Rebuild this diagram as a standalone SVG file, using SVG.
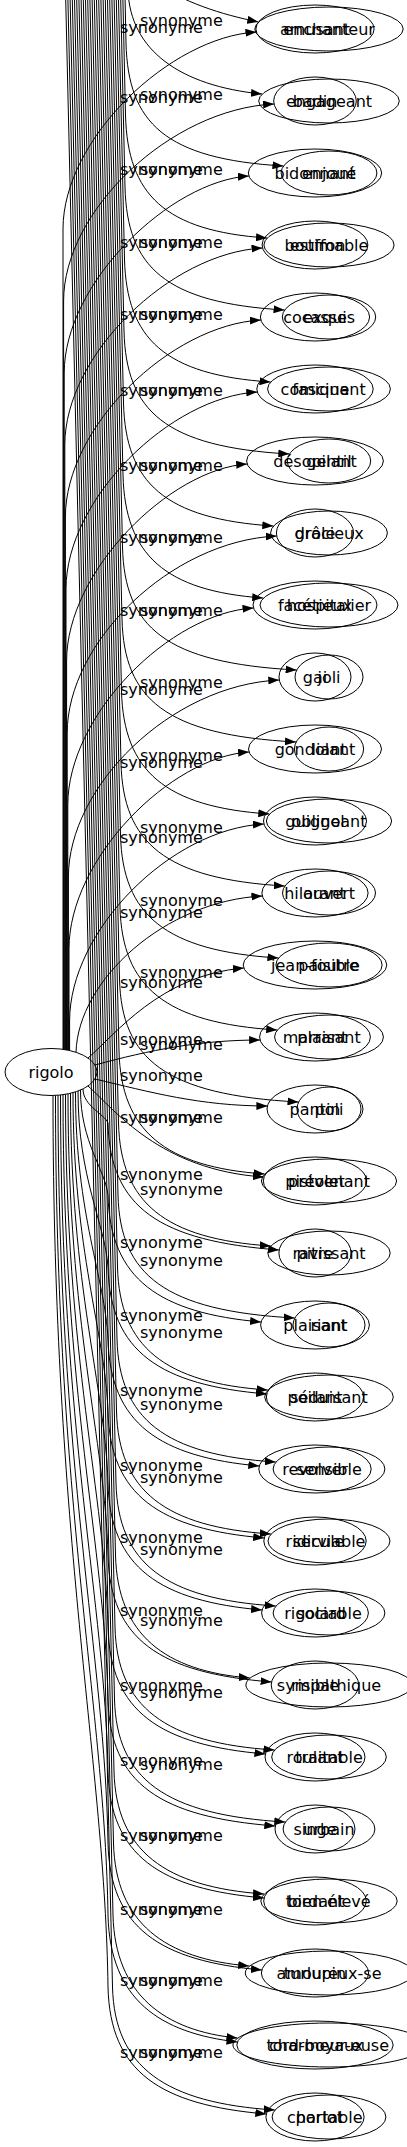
<svg xmlns="http://www.w3.org/2000/svg" width="407" height="2147" viewBox="0 0 407 2147">
<style>
.e{fill:none;stroke:#000;stroke-width:1;marker-end:url(#ah)}
.n{fill:none;stroke:#000;stroke-width:1}
.t{font-family:"DejaVu Sans",sans-serif;font-size:16px;text-anchor:middle;fill:#000}
.l{font-family:"DejaVu Sans",sans-serif;font-size:16px;fill:#000}
</style>
<defs>
<marker id="ah" markerUnits="userSpaceOnUse" markerWidth="11" markerHeight="8" refX="11" refY="4" orient="auto"><path d="M0,0 L11,4 L0,8 z" fill="#000"/></marker>
</defs>
<rect width="407" height="2147" fill="#fff"/>
<g id="connectors">
<path class="e" d="M63,1049.3 L63,229 C63,139 170,37 256.4,32"/>
<path class="e" d="M63.6,1049.4 L63.6,301 C63.6,211 170,109 274.1,104"/>
<path class="e" d="M64.2,1049.5 L64.2,373 C64.2,283 170,181 248.9,176"/>
<path class="e" d="M64.8,1049.6 L64.8,445 C64.8,355 170,253 262.5,248"/>
<path class="e" d="M65.4,1049.7 L65.4,517 C65.4,427 170,325 260.9,320"/>
<path class="e" d="M66,1049.8 L66,589 C66,499 170,397 257.3,392"/>
<path class="e" d="M66.6,1049.9 L66.6,661 C66.6,571 170,469 247.2,464"/>
<path class="e" d="M67.2,1050 L67.2,733 C67.2,643 170,541 276.7,536"/>
<path class="e" d="M67.8,1050.1 L67.8,805 C67.8,715 170,613 253.5,608"/>
<path class="e" d="M68.4,1050.3 L68.4,877 C68.4,787 170,685 279.3,680"/>
<path class="e" d="M69,1050.4 L69,949 C69,859 170,757 249.1,752"/>
<path class="e" d="M69.6,1050.5 L69.6,1021 C69.6,931 170,829 263.9,824"/>
<path class="e" d="M76,1052.5 C78,980 165,901 262.4,896"/>
<path class="e" d="M88,1058 C115,1035 160,975 243.8,968"/>
<path class="e" d="M95,1065 C150,1050 200,1040 260.1,1040"/>
<path class="e" d="M95,1079 C150,1092 200,1106 267.4,1106"/>
<path class="e" d="M88,1086 C115,1110 160,1170 263.7,1177"/>
<path class="e" d="M83,1088.9 C83,1106 105,1114.5 108,1123 C110,1208 160,1241 279.2,1250"/>
<path class="e" d="M80.5,1090 C80.5,1142.5 105,1168.8 108,1195 C110,1280 160,1313 261.1,1322"/>
<path class="e" d="M78,1091 C78,1179 105,1223 108,1267 C110,1352 160,1385 266.8,1394"/>
<path class="e" d="M75.5,1091.9 C75.5,1215.5 105,1277.2 108,1339 C110,1424 160,1457 259.3,1466"/>
<path class="e" d="M73,1092.6 C73,1251.8 105,1331.4 108,1411 C110,1496 160,1529 264.2,1538"/>
<path class="e" d="M70.5,1093.3 C70.5,1288.2 105,1385.6 108,1483 C110,1568 160,1601 262.1,1610"/>
<path class="e" d="M68,1093.8 C68,1324.4 105,1439.7 108,1555 C110,1640 160,1673 271.6,1682"/>
<path class="e" d="M65.5,1094.3 C65.5,1360.7 105,1493.8 108,1627 C110,1712 160,1745 265.4,1754"/>
<path class="e" d="M63,1094.7 C63,1396.9 105,1547.9 108,1699 C110,1784 160,1817 275.3,1826"/>
<path class="e" d="M60.5,1095 C60.5,1433 105,1602 108,1771 C110,1856 160,1889 264.1,1898"/>
<path class="e" d="M58,1095.2 C58,1469.1 105,1656 108,1843 C110,1928 160,1961 261.9,1970"/>
<path class="e" d="M55.5,1095.4 C55.5,1505.2 105,1710.1 108,1915 C110,2000 160,2033 237.5,2042"/>
<path class="e" d="M53,1095.5 C53,1541.3 105,1764.1 108,1987 C110,2072 160,2105 266.3,2114"/>
<path class="e" d="M150,-20 C185,3 220,14 258.3,22"/>
<path class="e" d="M128,-10 C130,50 180,86 262,94"/>
<path class="e" d="M125,-5 L126,43 C128,123 165,159 283.4,166"/>
<path class="e" d="M122.8,-5 L125.5,115 C127.5,195 165,231 267,238"/>
<path class="e" d="M120.6,-5 L125,187 C127,267 165,303 284.5,310"/>
<path class="e" d="M118.4,-5 L124.5,259 C126.5,339 165,375 270.5,382"/>
<path class="e" d="M116.2,-5 L124,331 C126,411 165,447 289.3,454"/>
<path class="e" d="M114,-5 L123.5,403 C125.5,483 165,519 273.3,526"/>
<path class="e" d="M111.8,-5 L123,475 C125,555 165,591 263.2,598"/>
<path class="e" d="M109.6,-5 L122.5,547 C124.5,627 165,663 296.6,670"/>
<path class="e" d="M107.4,-5 L122,619 C124,699 165,735 296,742"/>
<path class="e" d="M105.2,-5 L121.5,691 C123.5,771 165,807 269.3,814"/>
<path class="e" d="M103,-5 L121,763 C123,843 165,879 284.7,886"/>
<path class="e" d="M100.8,-5 L120.5,835 C122.5,915 165,951 278.4,958"/>
<path class="e" d="M98.6,-5 L120,907 C122,987 165,1023 277.2,1030"/>
<path class="e" d="M96.4,-5 L119.5,979 C121.5,1059 165,1095 298.5,1102"/>
<path class="e" d="M94.2,-5 L119,1051 C121,1131 165,1167 264.6,1174"/>
<path class="e" d="M92,-5 L118.5,1123 C120.5,1203 165,1239 270.7,1246"/>
<path class="e" d="M89.8,-5 L118,1195 C120,1275 165,1311 294.7,1318"/>
<path class="e" d="M87.6,-5 L117.5,1267 C119.5,1347 165,1383 267.7,1390"/>
<path class="e" d="M85.4,-5 L117,1339 C119,1419 165,1455 275.7,1462"/>
<path class="e" d="M83.2,-5 L116.5,1411 C118.5,1491 165,1527 270.9,1534"/>
<path class="e" d="M81,-5 L116,1483 C118,1563 165,1599 275.7,1606"/>
<path class="e" d="M78.8,-5 L115.5,1555 C117.5,1635 165,1671 249.8,1678"/>
<path class="e" d="M76.6,-5 L115,1627 C117,1707 165,1743 274.4,1750"/>
<path class="e" d="M74.4,-5 L114.5,1699 C116.5,1779 165,1815 285.3,1822"/>
<path class="e" d="M72.2,-5 L114,1771 C116,1851 165,1887 264,1894"/>
<path class="e" d="M70,-5 L113.5,1843 C115.5,1923 165,1959 249.2,1966"/>
<path class="e" d="M67.8,-5 L113,1915 C115,1995 165,2031 237.4,2038"/>
<path class="e" d="M65.6,-5 L112.5,1987 C114.5,2067 165,2103 274.8,2110"/>
<g id="edge-labels">
<text class="l" x="120" y="33">synonyme</text>
<text class="l" x="120" y="103">synonyme</text>
<text class="l" x="120" y="175">synonyme</text>
<text class="l" x="120" y="248">synonyme</text>
<text class="l" x="120" y="320">synonyme</text>
<text class="l" x="120" y="396">synonyme</text>
<text class="l" x="120" y="471">synonyme</text>
<text class="l" x="120" y="543">synonyme</text>
<text class="l" x="120" y="616">synonyme</text>
<text class="l" x="120" y="695">synonyme</text>
<text class="l" x="120" y="768">synonyme</text>
<text class="l" x="120" y="843">synonyme</text>
<text class="l" x="120" y="918">synonyme</text>
<text class="l" x="120" y="988">synonyme</text>
<text class="l" x="120" y="1045">synonyme</text>
<text class="l" x="120" y="1081">synonyme</text>
<text class="l" x="120" y="1123">synonyme</text>
<text class="l" x="120" y="1180">synonyme</text>
<text class="l" x="120" y="1248">synonyme</text>
<text class="l" x="120" y="1321">synonyme</text>
<text class="l" x="120" y="1396">synonyme</text>
<text class="l" x="120" y="1471">synonyme</text>
<text class="l" x="120" y="1543">synonyme</text>
<text class="l" x="120" y="1616">synonyme</text>
<text class="l" x="120" y="1691">synonyme</text>
<text class="l" x="120" y="1766">synonyme</text>
<text class="l" x="120" y="1841">synonyme</text>
<text class="l" x="120" y="1915">synonyme</text>
<text class="l" x="120" y="1986">synonyme</text>
<text class="l" x="120" y="2058">synonyme</text>
<text class="l" x="140" y="26">synonyme</text>
<text class="l" x="140" y="100">synonyme</text>
<text class="l" x="140" y="175">synonyme</text>
<text class="l" x="140" y="248">synonyme</text>
<text class="l" x="140" y="320">synonyme</text>
<text class="l" x="140" y="396">synonyme</text>
<text class="l" x="140" y="471">synonyme</text>
<text class="l" x="140" y="543">synonyme</text>
<text class="l" x="140" y="616">synonyme</text>
<text class="l" x="140" y="688">synonyme</text>
<text class="l" x="140" y="761">synonyme</text>
<text class="l" x="140" y="833">synonyme</text>
<text class="l" x="140" y="906">synonyme</text>
<text class="l" x="140" y="978">synonyme</text>
<text class="l" x="140" y="1050">synonyme</text>
<text class="l" x="140" y="1123">synonyme</text>
<text class="l" x="140" y="1195">synonyme</text>
<text class="l" x="140" y="1266">synonyme</text>
<text class="l" x="140" y="1338">synonyme</text>
<text class="l" x="140" y="1410">synonyme</text>
<text class="l" x="140" y="1483">synonyme</text>
<text class="l" x="140" y="1555">synonyme</text>
<text class="l" x="140" y="1626">synonyme</text>
<text class="l" x="140" y="1698">synonyme</text>
<text class="l" x="140" y="1770">synonyme</text>
<text class="l" x="140" y="1841">synonyme</text>
<text class="l" x="140" y="1915">synonyme</text>
<text class="l" x="140" y="1986">synonyme</text>
<text class="l" x="140" y="2058">synonyme</text>
</g>
</g>
<g id="rigolo"><ellipse class="n" cx="51" cy="1072" rx="46" ry="23.5"/><text class="t" x="51" y="1077.5">rigolo</text></g>
<g id="a1"><ellipse class="n" cx="315" cy="29" rx="59.1" ry="24"/><text class="t" x="315" y="34.5">amusant</text></g>
<g id="a2"><ellipse class="n" cx="315" cy="101" rx="41.3" ry="24"/><text class="t" x="315" y="106.5">badin</text></g>
<g id="a3"><ellipse class="n" cx="315" cy="173" rx="66.7" ry="24"/><text class="t" x="315" y="178.5">bidonnant</text></g>
<g id="a4"><ellipse class="n" cx="315" cy="245" rx="52.9" ry="24"/><text class="t" x="315" y="250.5">bouffon</text></g>
<g id="a5"><ellipse class="n" cx="315" cy="317" rx="54.6" ry="24"/><text class="t" x="315" y="322.5">cocasse</text></g>
<g id="a6"><ellipse class="n" cx="315" cy="389" rx="58.2" ry="24"/><text class="t" x="315" y="394.5">comique</text></g>
<g id="a7"><ellipse class="n" cx="315" cy="461" rx="68.4" ry="24"/><text class="t" x="315" y="466.5">désopilant</text></g>
<g id="a8"><ellipse class="n" cx="315" cy="533" rx="38.6" ry="24"/><text class="t" x="315" y="538.5">drôle</text></g>
<g id="a9"><ellipse class="n" cx="315" cy="605" rx="62" ry="24"/><text class="t" x="315" y="610.5">facétieux</text></g>
<g id="a10"><ellipse class="n" cx="315" cy="677" rx="36" ry="24"/><text class="t" x="315" y="682.5">gai</text></g>
<g id="a11"><ellipse class="n" cx="315" cy="749" rx="66.5" ry="24"/><text class="t" x="315" y="754.5">gondolant</text></g>
<g id="a12"><ellipse class="n" cx="315" cy="821" rx="51.5" ry="24"/><text class="t" x="315" y="826.5">guignol</text></g>
<g id="a13"><ellipse class="n" cx="315" cy="893" rx="53.1" ry="24"/><text class="t" x="315" y="898.5">hilarant</text></g>
<g id="a14"><ellipse class="n" cx="315" cy="965" rx="71.8" ry="24"/><text class="t" x="315" y="970.5">jean-foutre</text></g>
<g id="a15"><ellipse class="n" cx="315" cy="1037" rx="55.4" ry="24"/><text class="t" x="315" y="1042.5">marrant</text></g>
<g id="a16"><ellipse class="n" cx="315" cy="1109" rx="48" ry="24"/><text class="t" x="315" y="1114.5">pantin</text></g>
<g id="a17"><ellipse class="n" cx="315" cy="1181" rx="51.7" ry="24"/><text class="t" x="315" y="1186.5">pistolet</text></g>
<g id="a18"><ellipse class="n" cx="315" cy="1253" rx="36.1" ry="24"/><text class="t" x="315" y="1258.5">pitre</text></g>
<g id="a19"><ellipse class="n" cx="315" cy="1325" rx="54.4" ry="24"/><text class="t" x="315" y="1330.5">plaisant</text></g>
<g id="a20"><ellipse class="n" cx="315" cy="1397" rx="48.6" ry="24"/><text class="t" x="315" y="1402.5">poilant</text></g>
<g id="a21"><ellipse class="n" cx="315" cy="1469" rx="56.2" ry="24"/><text class="t" x="315" y="1474.5">revolver</text></g>
<g id="a22"><ellipse class="n" cx="315" cy="1541" rx="51.2" ry="24"/><text class="t" x="315" y="1546.5">ridicule</text></g>
<g id="a23"><ellipse class="n" cx="315" cy="1613" rx="53.4" ry="24"/><text class="t" x="315" y="1618.5">rigolard</text></g>
<g id="a24"><ellipse class="n" cx="315" cy="1685" rx="43.8" ry="24"/><text class="t" x="315" y="1690.5">risible</text></g>
<g id="a25"><ellipse class="n" cx="315" cy="1757" rx="50" ry="24"/><text class="t" x="315" y="1762.5">roulant</text></g>
<g id="a26"><ellipse class="n" cx="315" cy="1829" rx="40" ry="24"/><text class="t" x="315" y="1834.5">singe</text></g>
<g id="a27"><ellipse class="n" cx="315" cy="1901" rx="51.3" ry="24"/><text class="t" x="315" y="1906.5">tordant</text></g>
<g id="a28"><ellipse class="n" cx="315" cy="1973" rx="53.6" ry="24"/><text class="t" x="315" y="1978.5">turlupin</text></g>
<g id="a29"><ellipse class="n" cx="315" cy="2045" rx="78.2" ry="24"/><text class="t" x="315" y="2050.5">tord-boyaux</text></g>
<g id="a30"><ellipse class="n" cx="315" cy="2117" rx="49.1" ry="24"/><text class="t" x="315" y="2122.5">charlot</text></g>
<g id="b1"><ellipse class="n" cx="329" cy="29" rx="74.2" ry="22"/><text class="t" x="329" y="34.5">enchanteur</text></g>
<g id="b2"><ellipse class="n" cx="329" cy="101" rx="70.3" ry="22"/><text class="t" x="329" y="106.5">engageant</text></g>
<g id="b3"><ellipse class="n" cx="329" cy="173" rx="47.9" ry="22"/><text class="t" x="329" y="178.5">enjoué</text></g>
<g id="b4"><ellipse class="n" cx="329" cy="245" rx="65.1" ry="22"/><text class="t" x="329" y="250.5">estimable</text></g>
<g id="b5"><ellipse class="n" cx="329" cy="317" rx="46.7" ry="22"/><text class="t" x="329" y="322.5">exquis</text></g>
<g id="b6"><ellipse class="n" cx="329" cy="389" rx="61.4" ry="22"/><text class="t" x="329" y="394.5">fascinant</text></g>
<g id="b7"><ellipse class="n" cx="329" cy="461" rx="41.7" ry="22"/><text class="t" x="329" y="466.5">gentil</text></g>
<g id="b8"><ellipse class="n" cx="329" cy="533" rx="58.4" ry="22"/><text class="t" x="329" y="538.5">gracieux</text></g>
<g id="b9"><ellipse class="n" cx="329" cy="605" rx="69" ry="22"/><text class="t" x="329" y="610.5">hospitalier</text></g>
<g id="b10"><ellipse class="n" cx="329" cy="677" rx="34" ry="22"/><text class="t" x="329" y="682.5">joli</text></g>
<g id="b11"><ellipse class="n" cx="329" cy="749" rx="34.6" ry="22"/><text class="t" x="329" y="754.5">liant</text></g>
<g id="b12"><ellipse class="n" cx="329" cy="821" rx="62.6" ry="22"/><text class="t" x="329" y="826.5">obligeant</text></g>
<g id="b13"><ellipse class="n" cx="329" cy="893" rx="46.5" ry="22"/><text class="t" x="329" y="898.5">ouvert</text></g>
<g id="b14"><ellipse class="n" cx="329" cy="965" rx="53.1" ry="22"/><text class="t" x="329" y="970.5">paisible</text></g>
<g id="b15"><ellipse class="n" cx="329" cy="1037" rx="54.4" ry="22"/><text class="t" x="329" y="1042.5">plaisant</text></g>
<g id="b16"><ellipse class="n" cx="329" cy="1109" rx="32" ry="22"/><text class="t" x="329" y="1114.5">poli</text></g>
<g id="b17"><ellipse class="n" cx="329" cy="1181" rx="67.6" ry="22"/><text class="t" x="329" y="1186.5">prévenant</text></g>
<g id="b18"><ellipse class="n" cx="329" cy="1253" rx="61.2" ry="22"/><text class="t" x="329" y="1258.5">ravissant</text></g>
<g id="b19"><ellipse class="n" cx="329" cy="1325" rx="36" ry="22"/><text class="t" x="329" y="1330.5">riant</text></g>
<g id="b20"><ellipse class="n" cx="329" cy="1397" rx="64.3" ry="22"/><text class="t" x="329" y="1402.5">séduisant</text></g>
<g id="b21"><ellipse class="n" cx="329" cy="1469" rx="55.9" ry="22"/><text class="t" x="329" y="1474.5">sensible</text></g>
<g id="b22"><ellipse class="n" cx="329" cy="1541" rx="61" ry="22"/><text class="t" x="329" y="1546.5">serviable</text></g>
<g id="b23"><ellipse class="n" cx="329" cy="1613" rx="55.9" ry="22"/><text class="t" x="329" y="1618.5">sociable</text></g>
<g id="b24"><ellipse class="n" cx="329" cy="1685" rx="83.1" ry="22"/><text class="t" x="329" y="1690.5">sympathique</text></g>
<g id="b25"><ellipse class="n" cx="329" cy="1757" rx="57.3" ry="22"/><text class="t" x="329" y="1762.5">traitable</text></g>
<g id="b26"><ellipse class="n" cx="329" cy="1829" rx="45.9" ry="22"/><text class="t" x="329" y="1834.5">urbain</text></g>
<g id="b27"><ellipse class="n" cx="329" cy="1901" rx="68.2" ry="22"/><text class="t" x="329" y="1906.5">bien élevé</text></g>
<g id="b28"><ellipse class="n" cx="329" cy="1973" rx="83.7" ry="22"/><text class="t" x="329" y="1978.5">amoureux-se</text></g>
<g id="b29"><ellipse class="n" cx="329" cy="2045" rx="96.1" ry="22"/><text class="t" x="329" y="2050.5">charmeur-euse</text></g>
<g id="b30"><ellipse class="n" cx="329" cy="2117" rx="56.9" ry="22"/><text class="t" x="329" y="2122.5">portable</text></g>
</svg>
